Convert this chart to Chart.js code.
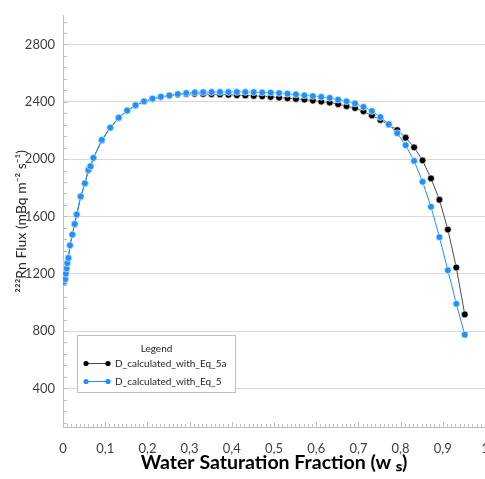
<!DOCTYPE html>
<html>
<head>
<meta charset="utf-8">
<script src="https://cdn.jsdelivr.net/npm/chart.js@4.4.1/dist/chart.umd.min.js"></script>
<style>
    html, body { margin: 0; padding: 0; background: #fff; overflow: hidden; }
    #wrap { width: 485px; height: 479px; overflow: hidden; }
</style>
</head>
<body>
<div id="wrap"><canvas id="fluxChart" width="490" height="479"></canvas></div>
<script>
// Water saturation fraction, shared by both series.
const saturation = [
    0.002, 0.005, 0.0065, 0.0088, 0.010, 0.0126, 0.0166, 0.022, 0.0277, 0.0325, 0.042, 0.052, 0.060, 0.065,
    0.072, 0.092, 0.112, 0.132, 0.152, 0.172, 0.192, 0.212, 0.232, 0.252,
    0.272, 0.292, 0.312, 0.332, 0.352, 0.372, 0.392, 0.412, 0.432, 0.452,
    0.472, 0.492, 0.512, 0.532, 0.552, 0.572, 0.592, 0.612, 0.632, 0.652,
    0.672, 0.692, 0.712, 0.732, 0.752, 0.772, 0.792, 0.812, 0.832, 0.852,
    0.872, 0.892, 0.912, 0.932, 0.952
];

// Radon flux (mBq m-2 s-1), D calculated with Eq 5a.
const fluxEq5a = [
    1140, 1160, 1198, 1235, 1272, 1308, 1396, 1471, 1545, 1611, 1737, 1829, 1922, 1948,
    2007, 2131, 2218, 2287, 2337, 2374, 2401, 2420, 2433, 2442,
    2450, 2455, 2456, 2455, 2453, 2451, 2449, 2446, 2444, 2441,
    2438, 2434, 2429, 2424, 2420, 2415, 2408, 2401, 2394, 2383,
    2369, 2356, 2333, 2305, 2273, 2240, 2202, 2149, 2082, 1991,
    1865, 1716, 1508, 1243, 916
];

// Radon flux (mBq m-2 s-1), D calculated with Eq 5.
const fluxEq5 = [
    1142, 1162, 1200, 1237, 1274, 1310, 1398, 1473, 1547, 1613, 1739, 1831, 1924, 1950,
    2009, 2133, 2220, 2289, 2339, 2376, 2403, 2422, 2435, 2444,
    2454, 2461, 2465, 2467, 2468, 2468, 2468, 2468, 2468, 2467,
    2465, 2464, 2461, 2456, 2451, 2445, 2440, 2434, 2427, 2415,
    2403, 2388, 2364, 2335, 2293, 2243, 2181, 2097, 1987, 1842,
    1667, 1455, 1224, 990, 774
];

const seriesNames = ['D_calculated_with_Eq_5a', 'D_calculated_with_Eq_5'];

const xTickValues = [0, 0.1, 0.2, 0.3, 0.4, 0.5, 0.6, 0.7, 0.8, 0.9, 1];
const xTickLabels = ['0', '0,1', '0,2', '0,3', '0,4', '0,5', '0,6', '0,7', '0,8', '0,9', '1'];
const yTickValues = [400, 800, 1200, 1600, 2000, 2400, 2800];
const yTickLabels = ['400', '800', '1200', '1600', '2000', '2400', '2800'];

const axisGray = '#bfbfbf';
const labelFont = 'Lato';

function toPoints(values) {
    return saturation.map((x, i) => ({ x: x, y: values[i] }));
}

// Small tick marks on the inner side of both axes.
const innerTicks = {
    id: 'innerTicks',
    beforeDatasetsDraw(chart) {
        const ctx = chart.ctx;
        const x = chart.scales.x;
        const y = chart.scales.y;
        const area = chart.chartArea;

        ctx.save();
        ctx.strokeStyle = axisGray;
        ctx.lineWidth = 1;
        ctx.beginPath();

        for (let v = 0; v <= 100; ++v) {
            const px = Math.round(x.getPixelForValue(v / 100)) + 0.5;
            const len = (v % 10 === 0) ? 5 : 3;
            ctx.moveTo(px, area.bottom);
            ctx.lineTo(px, area.bottom - len);
        }

        for (let v = 160; v <= 2960; v += 80) {
            const py = Math.round(y.getPixelForValue(v)) + 0.5;
            ctx.moveTo(area.left, py);
            ctx.lineTo(area.left + 4, py);
        }

        ctx.stroke();
        ctx.restore();
    }
};

// Boxed legend inside the plot, with a title.
const boxLegend = {
    id: 'boxLegend',
    afterDraw(chart) {
        const ctx = chart.ctx;
        const left = 77.5, top = 335.5, width = 158, height = 57;

        ctx.save();
        ctx.fillStyle = '#ffffff';
        ctx.strokeStyle = axisGray;
        ctx.lineWidth = 1;
        ctx.fillRect(left, top, width, height);
        ctx.strokeRect(left, top, width, height);

        ctx.fillStyle = '#262626';
        ctx.font = '10px ' + labelFont;
        ctx.textBaseline = 'middle';
        ctx.textAlign = 'center';
        ctx.fillText('Legend', left + 79, top + 13);

        ctx.textAlign = 'left';
        chart.data.datasets.forEach((ds, i) => {
            const yy = top + 28 + i * 18;
            ctx.strokeStyle = ds.borderColor;
            ctx.beginPath();
            ctx.moveTo(86, yy);
            ctx.lineTo(108, yy);
            ctx.stroke();
            ctx.fillStyle = ds.pointBackgroundColor;
            [86, 108].forEach((px) => {
                ctx.beginPath();
                ctx.arc(px, yy, 2.6, 0, Math.PI * 2);
                ctx.fill();
            });
            ctx.fillStyle = '#262626';
            ctx.fillText(ds.label, 115, yy);
        });
        ctx.restore();
    }
};

const config = {
    type: 'line',
    data: {
        datasets: [
            {
                label: seriesNames[0],
                data: toPoints(fluxEq5a),
                borderColor: '#4d4d4d',
                borderWidth: 1,
                pointBackgroundColor: '#000000',
                pointBorderColor: '#ffffff',
                pointBorderWidth: 0.6,
                pointRadius: 3.4,
                tension: 0,
                order: 2
            },
            {
                label: seriesNames[1],
                data: toPoints(fluxEq5),
                borderColor: '#1e90ff',
                borderWidth: 1,
                pointBackgroundColor: '#1e90ff',
                pointBorderColor: '#ffffff',
                pointBorderWidth: 0.6,
                pointRadius: 3.4,
                tension: 0,
                order: 1
            }
        ]
    },
    options: {
        responsive: false,
        animation: false,
        layout: { padding: { top: 10, right: 5, bottom: 0, left: 0 } },
        plugins: {
            legend: { display: false },
            tooltip: { enabled: false }
        },
        scales: {
            x: {
                type: 'linear',
                min: 0,
                max: 1,
                afterBuildTicks: (scale) => { scale.ticks = xTickValues.map((v) => ({ value: v })); },
                afterFit: (scale) => {
                    scale.height = 52;
                    scale.paddingLeft = 0;
                    scale.paddingRight = 0;
                },
                ticks: {
                    callback: (value, index) => xTickLabels[index],
                    font: { family: labelFont, size: 13 },
                    color: '#404040',
                    padding: 14,
                    maxRotation: 0,
                    autoSkip: false
                },
                grid: { display: false, drawTicks: false },
                border: { display: true, color: axisGray },
                title: {
                    display: true,
                    text: 'Water Saturation Fraction (w ₛ)',
                    font: { family: labelFont, size: 19.5, weight: 'bold' },
                    color: '#000000',
                    padding: { top: 0, bottom: 5 }
                }
            },
            y: {
                min: 130,
                max: 3000,
                afterBuildTicks: (scale) => { scale.ticks = yTickValues.map((v) => ({ value: v })); },
                afterFit: (scale) => { scale.width = 63; },
                ticks: {
                    callback: (value, index) => yTickLabels[index],
                    font: { family: labelFont, size: 13 },
                    color: '#404040',
                    padding: 8
                },
                grid: { color: '#d9d9d9', drawTicks: false },
                border: { display: true, color: axisGray },
                title: {
                    display: true,
                    text: '²²²Rn Flux (mBq m⁻² s⁻¹)',
                    font: { family: labelFont, size: 14 },
                    color: '#262626',
                    padding: { top: 13, bottom: 0 }
                }
            }
        }
    },
    plugins: [innerTicks, boxLegend]
};

new Chart(document.getElementById('fluxChart'), config);
</script>
</body>
</html>
